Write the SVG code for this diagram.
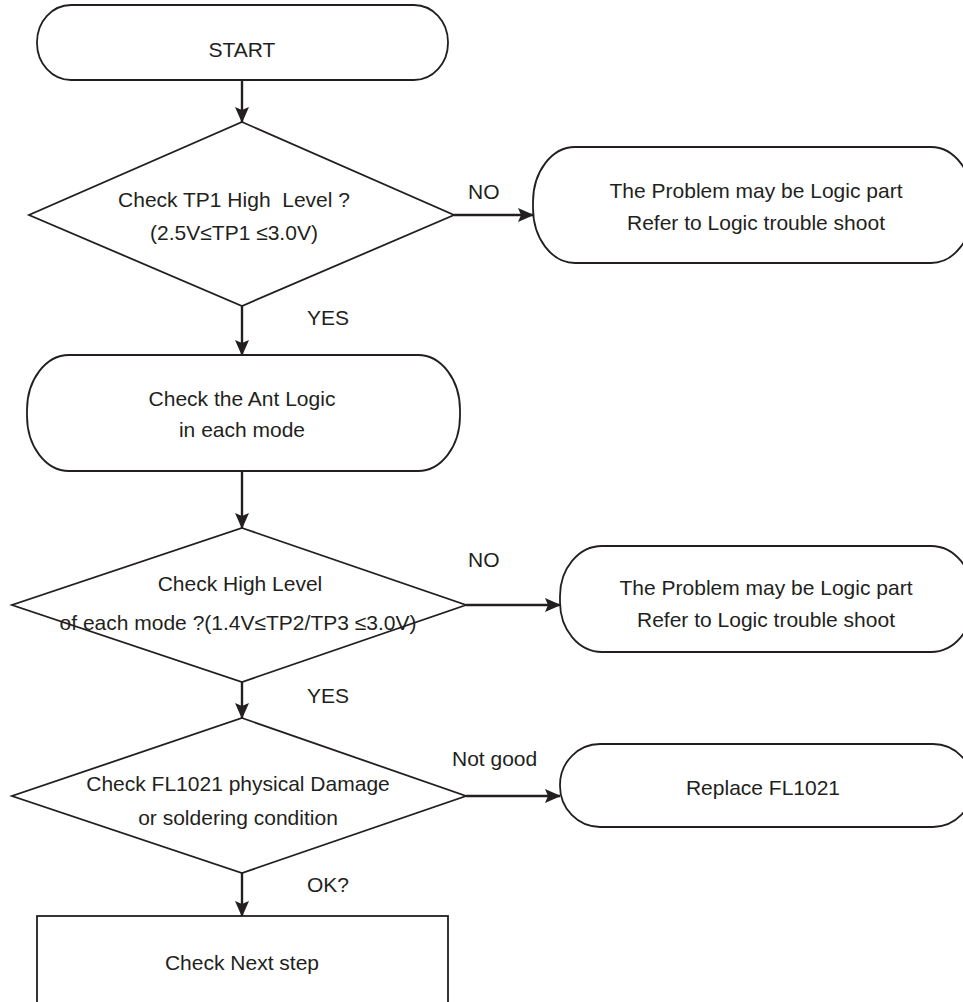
<svg xmlns="http://www.w3.org/2000/svg" width="963" height="1002" viewBox="0 0 963 1002">
<style>
.s{fill:#fff;stroke:#231f20;stroke-width:1.8}
.c{fill:none;stroke:#231f20;stroke-width:2.4}
text{font-family:"Liberation Sans",Arial,sans-serif;font-size:21px;fill:#231f20;white-space:pre}
.m{text-anchor:middle}
</style>
<defs>
<marker id="ah" markerUnits="userSpaceOnUse" markerWidth="16" markerHeight="14" refX="15" refY="7" orient="auto">
<path d="M0,0 L16,7 L0,14 L3,7 z" fill="#231f20"/>
</marker>
</defs>
<rect width="963" height="1002" fill="#fff"/>
<g id="start"><rect class="s" x="37" y="5" width="411" height="75" rx="34" ry="37"/><text class="m" x="242" y="57">START</text></g>
<g id="d1"><polygon class="s" points="242,122 454,215 242,306 29,215"/><text class="m" x="234" y="207" xml:space="preserve">Check TP1 High  Level ?</text><text class="m" x="234" y="240">(2.5V≤TP1 ≤3.0V)</text></g>
<g id="b1"><rect class="s" x="533" y="147" width="440" height="116" rx="42" ry="55"/><text class="m" x="756" y="198">The Problem may be Logic part</text><text class="m" x="756" y="230">Refer to Logic trouble shoot</text></g>
<g id="ant"><rect class="s" x="27" y="355" width="433" height="116" rx="42" ry="55"/><text class="m" x="242" y="406">Check the Ant Logic</text><text class="m" x="242" y="437">in each mode</text></g>
<g id="d2"><polygon class="s" points="242,528 466,605 242,682 12,605"/><text class="m" x="240" y="591">Check High Level</text><text class="m" x="238" y="630">of each mode ?(1.4V≤TP2/TP3 ≤3.0V)</text></g>
<g id="b2"><rect class="s" x="560" y="546" width="413" height="106" rx="42" ry="50"/><text class="m" x="766" y="595">The Problem may be Logic part</text><text class="m" x="766" y="627">Refer to Logic trouble shoot</text></g>
<g id="d3"><polygon class="s" points="242,718 466,796 242,873 12,796"/><text class="m" x="238" y="791">Check FL1021 physical Damage</text><text class="m" x="238" y="825">or soldering condition</text></g>
<g id="b3"><rect class="s" x="560" y="744" width="413" height="83" rx="40" ry="41"/><text class="m" x="763" y="795">Replace FL1021</text></g>
<g id="next"><rect class="s" x="37" y="916" width="411" height="100"/><text class="m" x="242" y="970">Check Next step</text></g>
<g id="connectors">
<line class="c" x1="242" y1="80" x2="242" y2="122" marker-end="url(#ah)"/>
<line class="c" x1="454" y1="215" x2="533" y2="215" marker-end="url(#ah)"/>
<line class="c" x1="242" y1="306" x2="242" y2="355" marker-end="url(#ah)"/>
<line class="c" x1="242" y1="471" x2="242" y2="528" marker-end="url(#ah)"/>
<line class="c" x1="466" y1="605" x2="560" y2="605" marker-end="url(#ah)"/>
<line class="c" x1="242" y1="682" x2="242" y2="718" marker-end="url(#ah)"/>
<line class="c" x1="466" y1="796" x2="560" y2="796" marker-end="url(#ah)"/>
<line class="c" x1="242" y1="873" x2="242" y2="916" marker-end="url(#ah)"/>
<text x="468" y="199">NO</text>
<text x="307" y="325">YES</text>
<text x="468" y="567">NO</text>
<text x="307" y="703">YES</text>
<text x="452" y="766">Not good</text>
<text x="307" y="892">OK?</text>
</g>
</svg>
